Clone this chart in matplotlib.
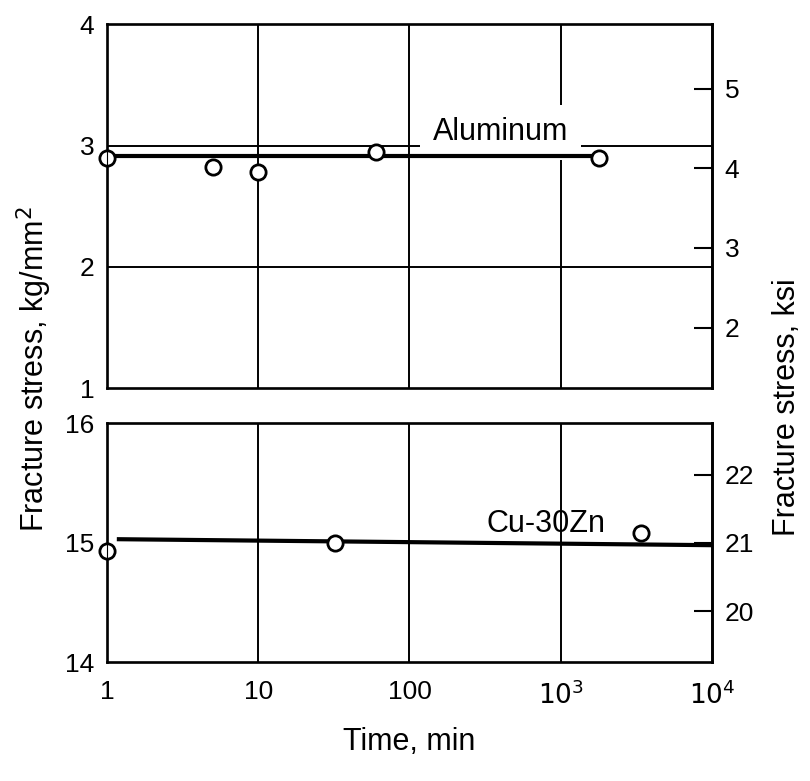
import matplotlib
matplotlib.use('Agg')
import matplotlib.pyplot as plt
from matplotlib.ticker import FixedLocator, FixedFormatter, NullLocator

plt.rcParams['font.family'] = ['Liberation Sans', 'DejaVu Sans']
NARROW = ['Liberation Sans Narrow', 'Liberation Sans', 'DejaVu Sans']

# Aluminum panel (kg/mm^2)
al_time = [1, 5, 10, 60, 1800]
al_stress = [2.90, 2.82, 2.78, 2.95, 2.90]
al_fit_time = [1, 1800]
al_fit_stress = [2.91, 2.91]

# Cu-30Zn panel (kg/mm^2)
cu_time = [1, 32, 3400]
cu_stress = [14.93, 15.0, 15.08]
cu_fit_time = [1.2, 10000]
cu_fit_stress = [15.03, 14.98]

x_ticks = [1, 10, 100, 1000, 10000]
x_labels = ['1', '10', '100', '$10^3$', '$10^4$']
al_yticks = [1, 2, 3, 4]
cu_yticks = [14, 15, 16]
al_ksi_ticks = [2, 3, 4, 5]
cu_ksi_ticks = [20, 21, 22]

LW_FRAME = 1.9
LW_GRID = 1.4
FS_TICK = 19
FS_TEXT = 22
FS_LABEL = 22

fig = plt.figure(figsize=(8.1, 7.81), dpi=100)
ax_al = fig.add_axes([0.132, 0.503, 0.747, 0.466])
ax_cu = fig.add_axes([0.132, 0.152, 0.747, 0.306])


def style_panel(ax, yticks, ylim):
    ax.set_xscale('log')
    ax.set_xlim(1, 1e4)
    ax.set_ylim(*ylim)
    ax.xaxis.set_major_locator(FixedLocator(x_ticks))
    ax.xaxis.set_minor_locator(NullLocator())
    ax.set_yticks(yticks)
    ax.tick_params(axis='both', length=0, labelsize=FS_TICK, pad=9)
    for lab in ax.get_xticklabels() + ax.get_yticklabels():
        lab.set_family(NARROW)
    for s in ax.spines.values():
        s.set_linewidth(LW_FRAME)
    # vertical grid lines at the inner decades
    for xv in x_ticks[1:-1]:
        ax.axvline(xv, color='k', lw=LW_GRID, zorder=1)


def add_ksi(ax, ylim, ticks):
    tw = ax.twinx()
    tw.set_ylim(*ylim)
    tw.set_yticks(ticks)
    tw.tick_params(axis='y', direction='in', length=13, width=1.5,
                   labelsize=FS_TICK, pad=9)
    for lab in tw.get_yticklabels():
        lab.set_family(NARROW)
    tw.spines['right'].set_linewidth(LW_FRAME)
    return tw


style_panel(ax_al, al_yticks, (1, 4))
ax_al.tick_params(axis='x', labelbottom=False)
for yv in [2, 3]:
    ax_al.axhline(yv, color='k', lw=LW_GRID, zorder=1)
ax_al.plot(al_fit_time, al_fit_stress, color='k', lw=3, zorder=3)
ax_al.plot(al_time, al_stress, 'o', ms=11, mfc='white', mec='k', mew=2,
           zorder=4, clip_on=False)
ax_al.text(400, 3.11, 'Aluminum', fontsize=FS_TEXT, ha='center',
           va='center', zorder=2,
           bbox=dict(facecolor='white', edgecolor='none', pad=9))
add_ksi(ax_al, (1.24, 5.81), al_ksi_ticks)

style_panel(ax_cu, cu_yticks, (14, 16))
ax_cu.xaxis.set_major_formatter(FixedFormatter(x_labels))
ax_cu.tick_params(axis='x', pad=13)
for lab in ax_cu.get_xticklabels():
    lab.set_family(NARROW)
ax_cu.plot(cu_fit_time, cu_fit_stress, color='k', lw=3, zorder=3)
ax_cu.plot(cu_time, cu_stress, 'o', ms=11, mfc='white', mec='k', mew=2,
           zorder=4, clip_on=False)
ax_cu.text(800, 15.16, 'Cu-30Zn', fontsize=FS_TEXT, ha='center',
           va='center', zorder=5)
add_ksi(ax_cu, (19.25, 22.75), cu_ksi_ticks)

fig.text(0.042, 0.527, 'Fracture stress, kg/mm$^2$', rotation=90,
         fontsize=FS_LABEL, ha='center', va='center')
fig.text(0.972, 0.478, 'Fracture stress, ksi', rotation=90,
         fontsize=FS_LABEL, ha='center', va='center')
fig.text(0.505, 0.05, 'Time, min', fontsize=FS_LABEL, ha='center',
         va='center')

fig.savefig('out.png', dpi=100)
